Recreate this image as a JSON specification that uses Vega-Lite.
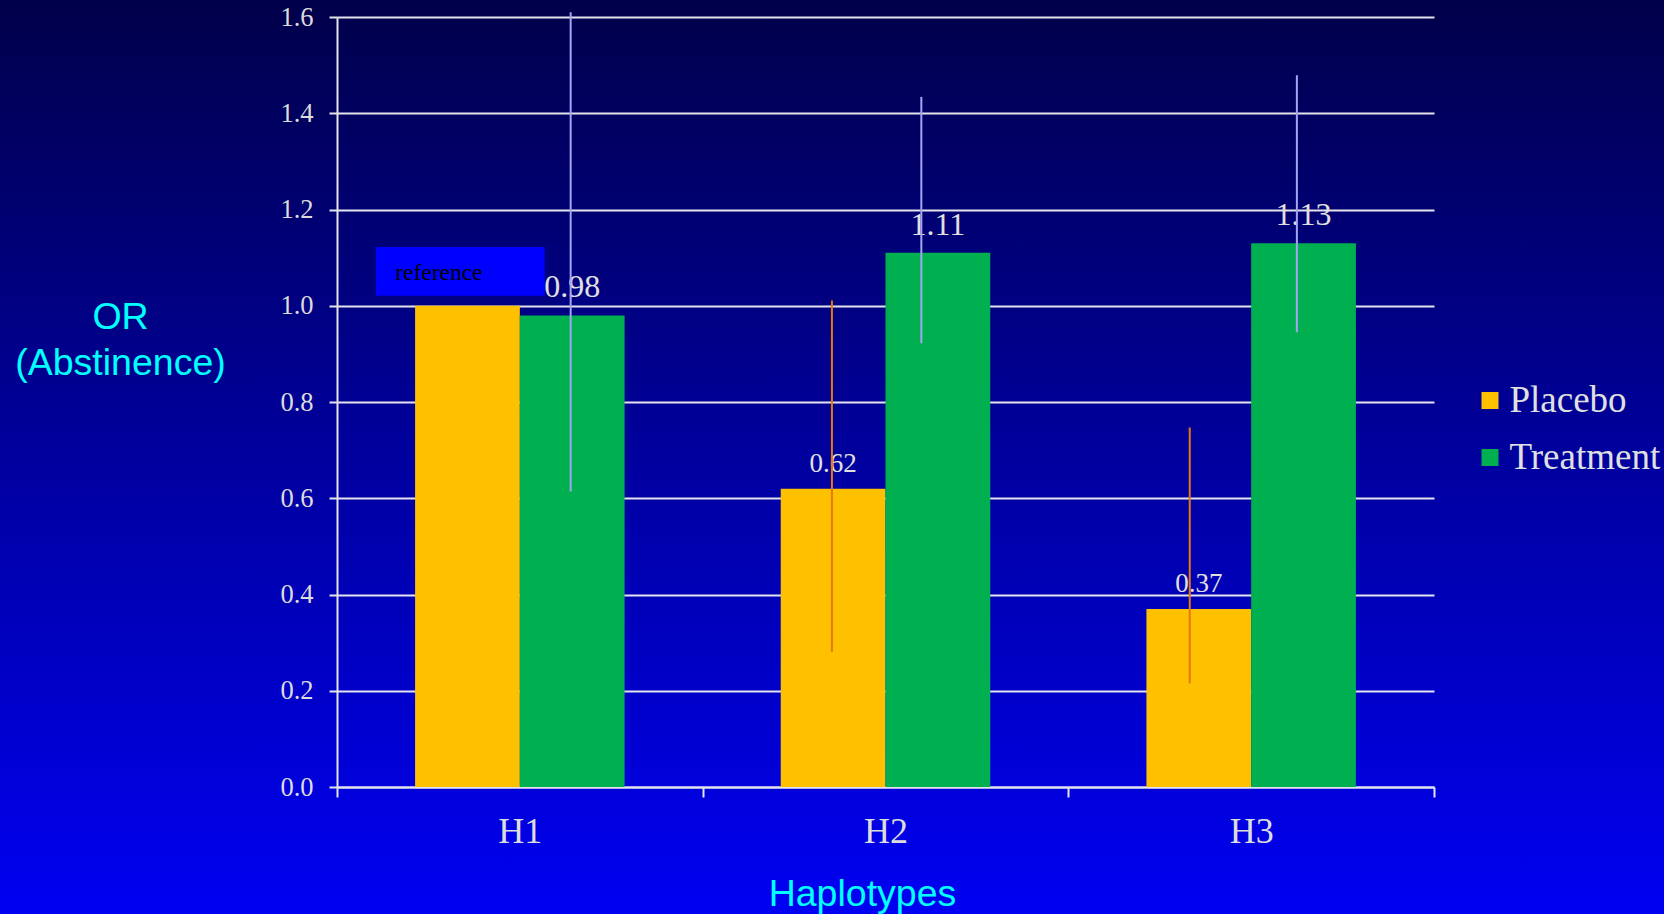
{
  "$schema": "https://vega.github.io/schema/vega-lite/v6.json",
  "width": 1664,
  "height": 914,
  "autosize": {"type": "none"},
  "padding": 0,
  "background": "#00009c",
  "view": {
    "stroke": null,
    "fill": {
      "gradient": "linear",
      "x1": 0, "y1": 0, "x2": 0, "y2": 1,
      "stops": [
        {"offset": 0, "color": "#00004a"},
        {"offset": 1, "color": "#0000f2"}
      ]
    }
  },
  "datasets": {
    "odds": [
      {"hap": "H1", "group": "Placebo", "or": 1.0, "lo": null, "hi": null, "note": "reference"},
      {"hap": "H1", "group": "Treatment", "or": 0.98, "lo": 0.614, "hi": 1.61, "note": null},
      {"hap": "H2", "group": "Placebo", "or": 0.62, "lo": 0.281, "hi": 1.011, "note": null},
      {"hap": "H2", "group": "Treatment", "or": 1.11, "lo": 0.922, "hi": 1.434, "note": null},
      {"hap": "H3", "group": "Placebo", "or": 0.37, "lo": 0.215, "hi": 0.747, "note": null},
      {"hap": "H3", "group": "Treatment", "or": 1.13, "lo": 0.945, "hi": 1.479, "note": null}
    ]
  },
  "data": {"name": "odds"},
  "encoding": {
    "x": {
      "field": "hap",
      "type": "nominal",
      "scale": {"range": [337, 1434], "paddingInner": 0, "paddingOuter": 0},
      "axis": {
        "orient": "bottom",
        "offset": -127,
        "tickBand": "extent",
        "labelAngle": 0,
        "labelFont": "Liberation Serif",
        "labelFontSize": 36,
        "labelColor": "#dcdcdc",
        "labelBaseline": "alphabetic",
        "labelPadding": 45,
        "domainColor": "#e4e4ec",
        "domainWidth": 2,
        "tickColor": "#e4e4ec",
        "tickWidth": 2,
        "tickSize": 10,
        "title": "Haplotypes",
        "titleFont": "Liberation Sans",
        "titleFontSize": 37.5,
        "titleFontWeight": "normal",
        "titleColor": "#00ffff",
        "titleAlign": "center",
        "titleBaseline": "alphabetic",
        "titleX": 862,
        "titleY": 118
      }
    },
    "y": {
      "field": "or",
      "type": "quantitative",
      "stack": null,
      "scale": {"domain": [0, 1.6], "range": [787, 17], "nice": false, "zero": true},
      "axis": {
        "orient": "left",
        "offset": -337,
        "values": [0, 0.2, 0.4, 0.6, 0.8, 1.0, 1.2, 1.4, 1.6],
        "format": ".1f",
        "grid": true,
        "gridColor": "#e4e4ec",
        "gridWidth": 2,
        "domainColor": "#e4e4ec",
        "domainWidth": 2,
        "tickColor": "#e4e4ec",
        "tickWidth": 2,
        "tickSize": 8,
        "labelFont": "Liberation Serif",
        "labelFontSize": 26.5,
        "labelColor": "#dcdcdc",
        "labelPadding": 16,
        "title": ["OR", "(Abstinence)"],
        "titleAngle": 0,
        "titleFont": "Liberation Sans",
        "titleFontSize": 37.5,
        "titleFontWeight": "normal",
        "titleColor": "#00ffff",
        "titleAlign": "center",
        "titleBaseline": "alphabetic",
        "titleLineHeight": 46,
        "titleX": -217,
        "titleY": 328
      }
    }
  },
  "layer": [
    {
      "mark": {"type": "bar"},
      "encoding": {
        "xOffset": {
          "field": "group",
          "type": "nominal",
          "scale": {"paddingInner": 0, "paddingOuter": 0.7455}
        },
        "color": {
          "field": "group",
          "type": "nominal",
          "scale": {"domain": ["Placebo", "Treatment"], "range": ["#ffc000", "#00b050"]},
          "legend": {
            "orient": "none",
            "legendX": 1471.5,
            "legendY": 382,
            "title": null,
            "padding": 0,
            "symbolType": "square",
            "symbolSize": 289,
            "symbolStrokeWidth": 0,
            "labelFont": "Liberation Serif",
            "labelFontSize": 37,
            "labelColor": "#e0e0e0",
            "labelOffset": 1,
            "rowPadding": 19
          }
        }
      }
    },
    {
      "transform": [{"filter": "datum.lo != null && datum.group == 'Placebo'"}],
      "mark": {"type": "text", "font": "Liberation Serif", "fontSize": 27, "color": "#e0e0e0", "baseline": "alphabetic", "align": "center", "dy": -17},
      "encoding": {
        "xOffset": {"field": "group", "type": "nominal"},
        "text": {"field": "or", "type": "quantitative", "format": ".2f"}
      }
    },
    {
      "transform": [{"filter": "datum.group == 'Treatment'"}],
      "mark": {"type": "text", "font": "Liberation Serif", "fontSize": 32, "color": "#e0e0e0", "baseline": "alphabetic", "align": "center", "dy": -18},
      "encoding": {
        "xOffset": {"field": "group", "type": "nominal"},
        "text": {"field": "or", "type": "quantitative", "format": ".2f"}
      }
    },
    {
      "transform": [{"filter": "datum.hap == 'H2' && datum.group == 'Placebo'"}],
      "mark": {"type": "rule", "strokeWidth": 2, "color": "#e8780c"},
      "encoding": {
        "x": {"field": "hap", "type": "nominal", "bandPosition": 0.3535},
        "y": {"field": "lo", "type": "quantitative"},
        "y2": {"field": "hi"}
      }
    },
    {
      "transform": [{"filter": "datum.hap == 'H3' && datum.group == 'Placebo'"}],
      "mark": {"type": "rule", "strokeWidth": 2, "color": "#e8780c"},
      "encoding": {
        "x": {"field": "hap", "type": "nominal", "bandPosition": 0.332},
        "y": {"field": "lo", "type": "quantitative"},
        "y2": {"field": "hi"}
      }
    },
    {
      "transform": [{"filter": "datum.hap == 'H1' && datum.group == 'Treatment'"}],
      "mark": {"type": "rule", "strokeWidth": 2, "color": "#a4a4f4"},
      "encoding": {
        "x": {"field": "hap", "type": "nominal", "bandPosition": 0.639},
        "y": {"field": "lo", "type": "quantitative"},
        "y2": {"field": "hi"}
      }
    },
    {
      "transform": [{"filter": "datum.hap == 'H2' && datum.group == 'Treatment'"}],
      "mark": {"type": "rule", "strokeWidth": 2, "color": "#a4a4f4"},
      "encoding": {
        "x": {"field": "hap", "type": "nominal", "bandPosition": 0.598},
        "y": {"field": "lo", "type": "quantitative"},
        "y2": {"field": "hi"}
      }
    },
    {
      "transform": [{"filter": "datum.hap == 'H3' && datum.group == 'Treatment'"}],
      "mark": {"type": "rule", "strokeWidth": 2, "color": "#a4a4f4"},
      "encoding": {
        "x": {"field": "hap", "type": "nominal", "bandPosition": 0.625},
        "y": {"field": "lo", "type": "quantitative"},
        "y2": {"field": "hi"}
      }
    },
    {
      "transform": [{"filter": "datum.note != null"}],
      "mark": {"type": "rect", "color": "#0000ff"},
      "encoding": {
        "x": {"field": "hap", "type": "nominal", "bandPosition": 0.106},
        "x2": {"field": "hap", "bandPosition": 0.568},
        "y": {"datum": 1.021, "type": "quantitative"},
        "y2": {"datum": 1.122}
      }
    },
    {
      "transform": [{"filter": "datum.note != null"}],
      "mark": {"type": "text", "font": "Liberation Serif", "fontSize": 23.5, "color": "#000000", "align": "left", "baseline": "alphabetic"},
      "encoding": {
        "x": {"field": "hap", "type": "nominal", "bandPosition": 0.159},
        "y": {"datum": 1.0535, "type": "quantitative"},
        "text": {"field": "note"}
      }
    }
  ]
}
